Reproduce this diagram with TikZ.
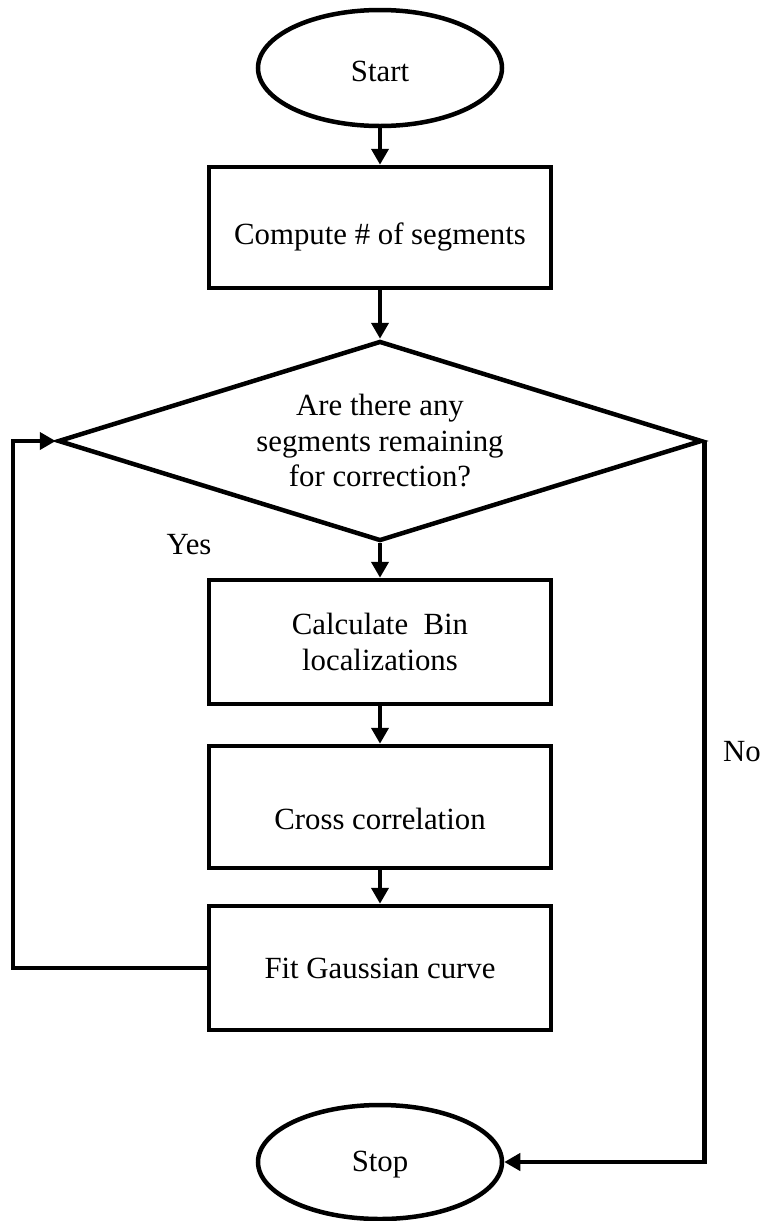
\documentclass[tikz,border=0pt]{standalone}
\usepackage{fontspec}
\setmainfont{Liberation Serif}
\usetikzlibrary{shapes.geometric,arrows.meta}
% set a single line of text a little lower without changing its box
\newcommand{\lowered}[2]{\raisebox{-#1}[\height][\depth]{#2}}
\begin{document}
\begin{tikzpicture}[x=1pt,y=-1pt,
  every node/.style={font=\fontsize{30.8}{35.5}\selectfont},
  terminal/.style={ellipse,draw,line width=4.5pt,minimum width=244pt,minimum height=116pt,inner sep=0pt},
  process/.style={rectangle,draw,line width=4.5pt,minimum width=342pt,inner sep=0pt,align=center},
  decision/.style={diamond,draw,line width=4.5pt,shape aspect=3.22,minimum width=644pt,minimum height=200pt,inner sep=0pt,align=center},
  flow/.style={line width=4.5pt,-{Triangle[length=16pt,width=17pt]}},
  tag/.style={inner sep=0pt}]
\useasboundingbox (0,0) rectangle (761,1221);

% terminals, steps and the test
\node[terminal] (start) at (380,68) {\lowered{3pt}{Start}};
\node[process,minimum height=121pt] (count) at (380,227.5) {\lowered{9pt}{Compute \# of segments}};
\node[decision] (test) at (380,441) {Are there any\\segments remaining\\for correction?};
\node[process,minimum height=124pt] (bins) at (380,642) {Calculate\ \ Bin\\localizations};
\node[process,minimum height=122pt] (xcorr) at (380,807) {\lowered{12pt}{Cross correlation}};
\node[process,minimum height=124pt] (fit) at (380,968) {Fit Gaussian curve};
\node[terminal,minimum height=114pt] (stop) at (380,1162) {\lowered{3pt}{Stop}};

% branch labels
\node[tag] (yes) at (189,545) {Yes};
\node[tag] (no) at (742,752) {No};

% main flow
\draw[flow] (start) -- (count);
\draw[flow] (count) -- (test);
\draw[flow] (test) -- (bins);
\draw[flow] (bins) -- (xcorr);
\draw[flow] (xcorr) -- (fit);

% loop back to the test
\coordinate (back) at (13,968);
\draw[flow] (fit.west) -- (back) |- (test.west);

% exit when no segments remain
\draw[flow] (test.east) |- (stop.east);
\end{tikzpicture}
\end{document}
